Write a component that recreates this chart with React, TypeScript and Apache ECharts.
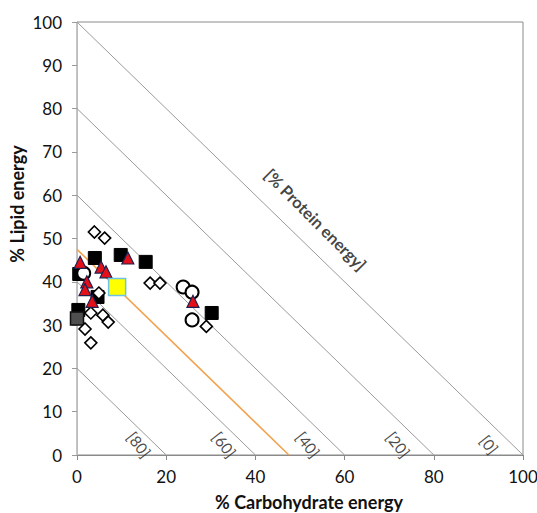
import React, { useEffect, useRef } from "react";
import * as echarts from "echarts";

// Protein-energy isolines: % protein = 100 - carb - lipid
const proteinLevels = [0, 20, 40, 60, 80];
const proteinLabels = ["[0]", "[20]", "[40]", "[60]", "[80]"];
const proteinLabelX = [92.4, 72.0, 51.8, 33.0, 13.9];
const proteinLabelY = [2.4, 2.4, 2.4, 2.4, 2.4];
const orangeLevel = 47.5; // carb + lipid = 47.5 reference line

// Data sets: [% carbohydrate energy, % lipid energy]
const diamonds: number[][] = [
  [3.9, 51.5], [6.2, 50.1], [4.9, 37.4], [16.4, 39.7], [18.6, 39.7],
  [3.1, 32.8], [5.8, 32.3], [7.0, 30.7], [1.8, 29.1], [3.1, 25.9], [29.0, 29.7],
];
const circles: number[][] = [
  [1.5, 42.0], [23.8, 38.8], [25.8, 37.6], [25.8, 31.2],
];
const blackSquares: number[][] = [
  [0.5, 41.8], [4.0, 45.5], [9.8, 46.2], [15.4, 44.6], [4.6, 36.5], [30.2, 32.8], [0.3, 33.5],
];
const graySquares: number[][] = [[0.0, 31.5]];
const redTriangles: number[][] = [
  [0.7, 44.5], [2.2, 40.0], [1.8, 38.2], [5.4, 43.4], [6.5, 42.3], [11.4, 45.5], [3.4, 35.5], [26.0, 35.5],
];
const yellowSquares: number[][] = [[9.0, 38.8]];

const xTicks = { min: 0, max: 100, interval: 20 };
const yTicks = { min: 0, max: 100, interval: 10 };

const FONT = "Lato, 'Open Sans', sans-serif";

export default function App() {
  const ref = useRef<HTMLDivElement>(null);
  useEffect(() => {
    if (!ref.current) return;
    const chart = echarts.init(ref.current, undefined, { renderer: "svg" });

    const isoSeries = proteinLevels.map((p) => ({
      type: "line" as const,
      data: [[0, 100 - p], [100 - p, 0]],
      symbol: "none",
      lineStyle: { color: "#9a9a9a", width: 1 },
      silent: true,
      z: 1,
    }));

    const labelData = proteinLabels.map((t, i) => ({
      name: t,
      value: [proteinLabelX[i], proteinLabelY[i]],
    }));

    chart.setOption({
      animation: false,
      backgroundColor: "#ffffff",
      grid: {
        left: 77,
        right: 14,
        top: 22,
        bottom: 58,
        show: true,
        borderColor: "#8a8a8a",
        borderWidth: 1,
        outerBoundsMode: "none",
        containLabel: false,
      },
      xAxis: {
        type: "value",
        ...xTicks,
        axisLine: { show: true, lineStyle: { color: "#8a8a8a" } },
        axisTick: { show: true, length: 5, lineStyle: { color: "#8a8a8a" } },
        axisLabel: { fontSize: 17, color: "#111", fontFamily: FONT, margin: 13, showMaxLabel: true },
        splitLine: { show: false },
      },
      yAxis: {
        type: "value",
        ...yTicks,
        axisLine: { show: true, lineStyle: { color: "#bdbdbd" } },
        axisTick: { show: true, length: 5, lineStyle: { color: "#9a9a9a" } },
        axisLabel: { fontSize: 17, color: "#111", fontFamily: FONT, margin: 15 },
        splitLine: { show: false },
      },
      graphic: [
        {
          type: "text",
          x: 17,
          y: 204,
          rotation: Math.PI / 2,
          style: {
            text: "% Lipid energy",
            fontSize: 18,
            fontWeight: "bold",
            fontFamily: FONT,
            fill: "#111",
            align: "center",
            verticalAlign: "middle",
          },
        },
        {
          type: "text",
          x: 309,
          y: 502,
          style: {
            text: "% Carbohydrate energy",
            fontSize: 18,
            fontWeight: "bold",
            fontFamily: FONT,
            fill: "#111",
            align: "center",
            verticalAlign: "middle",
          },
        },
      ],
      series: [
        ...isoSeries,
        {
          type: "line",
          data: [[0, orangeLevel], [orangeLevel, 0]],
          symbol: "none",
          lineStyle: { color: "#f2a24e", width: 1.6 },
          silent: true,
          z: 1,
        },
        {
          type: "scatter",
          data: labelData,
          symbolSize: 0,
          silent: true,
          z: 2,
          label: {
            show: true,
            formatter: "{b}",
            position: "inside",
            rotate: -52,
            fontSize: 15.5,
            color: "#1a1a1a",
            fontFamily: FONT,
          },
        },
        {
          type: "scatter",
          data: [{ name: "[% Protein energy]", value: [53.4, 54.3] }],
          symbolSize: 0,
          silent: true,
          z: 2,
          label: {
            show: true,
            formatter: "{b}",
            position: "inside",
            rotate: -45,
            fontSize: 16.5,
            fontWeight: "bold",
            color: "#111",
            fontFamily: FONT,
          },
        },
        {
          type: "scatter",
          data: blackSquares,
          symbol: "rect",
          symbolSize: 13,
          clip: false,
          itemStyle: { color: "#000000", borderColor: "#000", borderWidth: 1, opacity: 1 },
          z: 3,
        },
        {
          type: "scatter",
          data: graySquares,
          symbol: "rect",
          symbolSize: 13,
          clip: false,
          itemStyle: { color: "#4f4f4f", borderColor: "#111", borderWidth: 1.5, opacity: 1 },
          z: 3,
        },
        {
          type: "scatter",
          data: circles,
          symbol: "circle",
          symbolSize: 13,
          clip: false,
          itemStyle: { color: "#ffffff", borderColor: "#000", borderWidth: 2, opacity: 1 },
          z: 4,
        },
        {
          type: "scatter",
          data: diamonds,
          symbol: "diamond",
          symbolSize: 12,
          clip: false,
          itemStyle: { color: "#ffffff", borderColor: "#000", borderWidth: 1.6, opacity: 1 },
          z: 5,
        },
        {
          type: "scatter",
          data: redTriangles,
          symbol: "triangle",
          symbolSize: 12,
          clip: false,
          itemStyle: { color: "#e3101a", borderColor: "#1c2150", borderWidth: 1.2, opacity: 1 },
          z: 6,
        },
        {
          type: "scatter",
          data: yellowSquares,
          symbol: "rect",
          symbolSize: 17,
          clip: false,
          itemStyle: { color: "#ffff00", borderColor: "#6cc3e6", borderWidth: 1.5, opacity: 1 },
          z: 7,
        },
      ],
    });
    return () => chart.dispose();
  }, []);

  return (
    <div
      ref={ref}
      style={{ position: "absolute", left: 0, top: 0, width: 537, height: 513 }}
    />
  );
}
